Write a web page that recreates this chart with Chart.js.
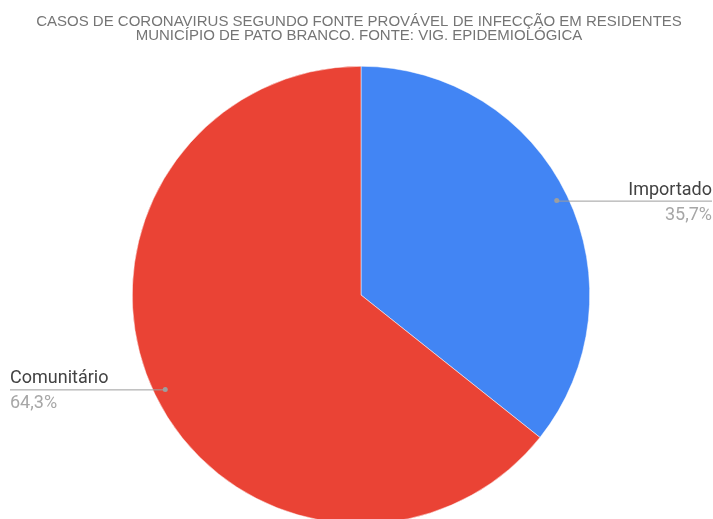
<!DOCTYPE html>
<html>
<head>
<meta charset="utf-8">
<script src="https://cdn.jsdelivr.net/npm/chart.js@4.4.0/dist/chart.umd.min.js"></script>
<style>
  html, body { margin: 0; padding: 0; background: #fff; overflow: hidden; }
  #wrap { width: 713px; height: 530px; }
</style>
</head>
<body>
<div id="wrap"><canvas id="pieChart" width="713" height="530"></canvas></div>
<script>
// Data
const categories = ['Importado', 'Comunitário'];
const shares = [35.7, 64.3];
const shareLabels = ['35,7%', '64,3%'];
const sliceColors = ['#4285F4', '#EA4335'];
const titleLines = [
    'CASOS DE CORONAVIRUS SEGUNDO FONTE PROVÁVEL DE INFECÇÃO EM RESIDENTES',
    'MUNICÍPIO DE PATO BRANCO. FONTE: VIG. EPIDEMIOLÓGICA'
];

const TITLE_FONT = "'Liberation Sans', Arial, sans-serif";
const LABEL_FONT = "Roboto, 'Noto Sans', sans-serif";

// Title and leader-line labels drawn by hand, like the Google Sheets original
const labelPlugin = {
    id: 'sheetLabels',
    afterDraw(chart) {
        const ctx = chart.ctx;
        ctx.save();

        ctx.fillStyle = '#757575';
        ctx.font = '15px ' + TITLE_FONT;
        ctx.textAlign = 'center';
        ctx.textBaseline = 'alphabetic';
        ctx.fillText(titleLines[0], 359, 26);
        ctx.fillText(titleLines[1], 359, 40);

        const meta = chart.getDatasetMeta(0);
        meta.data.forEach((arc, i) => {
            const mid = (arc.startAngle + arc.endAngle) / 2;
            const r = arc.outerRadius * 0.95;
            const px = arc.x + Math.cos(mid) * r;
            const py = arc.y + Math.sin(mid) * r;
            const right = Math.cos(mid) >= 0;
            const endX = right ? 712 : 10;

            ctx.strokeStyle = '#9e9e9e';
            ctx.lineWidth = 1;
            ctx.beginPath();
            ctx.moveTo(px, py + 0.5);
            ctx.lineTo(endX, py + 0.5);
            ctx.stroke();

            ctx.fillStyle = '#9e9e9e';
            ctx.beginPath();
            ctx.arc(px, py, 2.5, 0, Math.PI * 2);
            ctx.fill();

            ctx.textAlign = right ? 'right' : 'left';
            ctx.font = '18px ' + LABEL_FONT;
            ctx.fillStyle = '#424242';
            ctx.fillText(categories[i], endX, py - 6);
            ctx.fillStyle = '#a6a6a6';
            ctx.fillText(shareLabels[i], endX, py + 19);
        });

        ctx.restore();
    }
};

new Chart(document.getElementById('pieChart'), {
    type: 'pie',
    data: {
        labels: categories,
        datasets: [{
            data: shares,
            backgroundColor: sliceColors,
            borderColor: '#ffffff',
            borderWidth: 0.5
        }]
    },
    options: {
        responsive: false,
        animation: false,
        layout: { padding: { top: 66, bottom: 6, left: 132, right: 123 } },
        plugins: {
            legend: { display: false },
            tooltip: { enabled: false },
            title: { display: false }
        }
    },
    plugins: [labelPlugin]
});
</script>
</body>
</html>
